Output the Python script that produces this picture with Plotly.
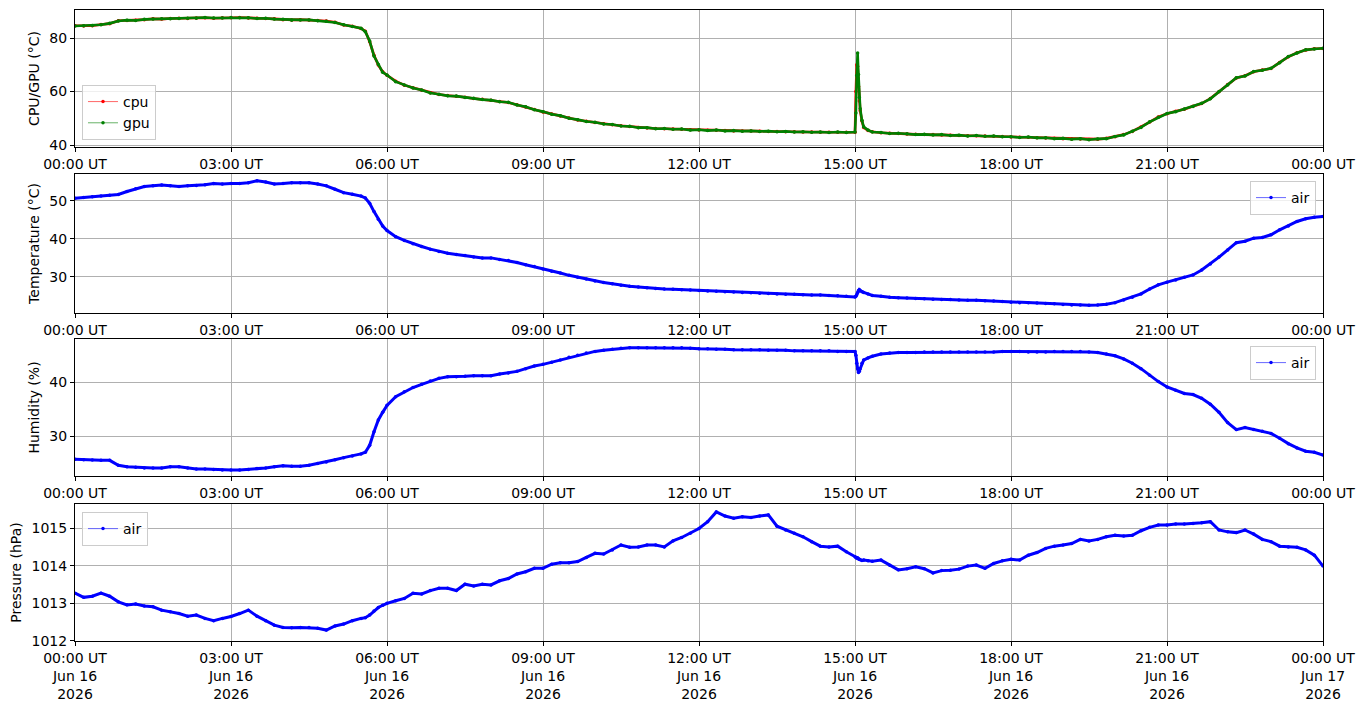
import pandas as pd
import plotly.graph_objects as go

# sample times: every 10 minutes, with a few extra samples around the drop and the 15:00 spike
base = pd.date_range("2026-06-16 00:00", "2026-06-17 00:00", freq="10min")
extra = pd.to_datetime(["2026-06-16 05:35", "2026-06-16 05:45", "2026-06-16 05:55",
                        "2026-06-16 15:01", "2026-06-16 15:02", "2026-06-16 15:03",
                        "2026-06-16 15:04", "2026-06-16 15:05", "2026-06-16 15:06",
                        "2026-06-16 15:08", "2026-06-16 15:15"])
times = base.append(extra).sort_values()

# CPU temperature (deg C), one row per hour
cpu = [
    84.6, 84.5, 84.6, 85.1, 85.4, 86.5,
    86.6, 86.7, 86.9, 87.2, 87.1, 87.3,
    87.4, 87.3, 87.5, 87.6, 87.4, 87.6,
    87.6, 87.7, 87.5, 87.4, 87.3, 87.2,
    86.9, 86.8, 86.9, 86.75, 86.6, 86.4,
    85.9, 84.9, 84.4, 83.6, 82.6, 78.6, 73.6, 69.9, 67.4,
    66.1, 63.9, 62.4, 61.4, 60.5, 59.6,
    58.9, 58.5, 58.25, 57.9, 57.4, 57.1,
    56.75, 56.3, 55.9, 55.1, 54.25, 53.3,
    52.4, 51.6, 50.9, 50.1, 49.4, 48.9,
    48.4, 48.0, 47.6, 47.2, 46.9, 46.6,
    46.4, 46.2, 46.1, 46.0, 45.9, 45.7,
    45.6, 45.5, 45.5, 45.4, 45.3, 45.3,
    45.25, 45.2, 45.1, 45.1, 45.0, 45.0,
    44.9, 44.9, 44.8, 44.8, 44.8, 44.8,
    44.8, 60.0, 70.0, 69.5, 62.0, 56.5, 52.8, 49.0, 46.6, 45.4, 45.0, 44.6, 44.4, 44.3,
    44.1, 44.0, 43.9, 43.9, 43.8, 43.7,
    43.6, 43.5, 43.5, 43.4, 43.3, 43.2,
    43.0, 42.9, 42.9, 42.75, 42.6, 42.5,
    42.4, 42.3, 42.3, 42.1, 42.2, 42.5,
    43.1, 43.9, 45.1, 46.75, 48.6, 50.5,
    51.75, 52.6, 53.4, 54.5, 55.5, 57.4,
    59.9, 62.6, 65.1, 65.9, 67.4, 68.1,
    68.6, 70.9, 73.0, 74.5, 75.5, 76.0,
    76.1,
]

# GPU temperature (deg C)
gpu = [
    84.5, 84.6, 84.7, 85.0, 85.5, 86.4,
    86.7, 86.6, 87.0, 87.1, 87.2, 87.2,
    87.3, 87.4, 87.4, 87.7, 87.5, 87.5,
    87.7, 87.6, 87.6, 87.3, 87.4, 87.1,
    87.0, 86.7, 86.8, 86.8, 86.5, 86.3,
    85.8, 85.0, 84.3, 83.7, 82.4, 78.9, 73.3, 70.1, 67.2,
    66.2, 63.7, 62.5, 61.3, 60.6, 59.5,
    59.0, 58.4, 58.3, 57.8, 57.5, 57.0,
    56.8, 56.2, 56.0, 55.0, 54.3, 53.2,
    52.5, 51.5, 51.0, 50.0, 49.5, 48.8,
    48.5, 47.9, 47.7, 47.1, 47.0, 46.5,
    46.5, 46.1, 46.2, 45.9, 46.0, 45.6,
    45.7, 45.4, 45.6, 45.3, 45.4, 45.2,
    45.3, 45.1, 45.2, 45.0, 45.1, 44.9,
    45.0, 44.8, 44.9, 44.7, 44.9, 44.7,
    44.9, 52.0, 66.0, 74.4, 66.4, 57.8, 53.6, 49.3, 46.8, 45.6, 44.9, 44.7, 44.3, 44.4,
    44.2, 43.9, 44.0, 43.8, 43.9, 43.6,
    43.7, 43.4, 43.6, 43.3, 43.4, 43.1,
    43.1, 42.8, 43.0, 42.7, 42.7, 42.4,
    42.5, 42.2, 42.4, 42.0, 42.3, 42.4,
    43.2, 43.8, 45.2, 46.6, 48.7, 50.4,
    51.8, 52.5, 53.5, 54.4, 55.6, 57.3,
    60.0, 62.5, 65.2, 65.8, 67.5, 68.0,
    68.7, 70.8, 73.1, 74.4, 75.6, 75.9,
    76.2,
]

# air temperature (deg C)
air_temp = [
    50.7, 50.9, 51.1, 51.3, 51.5, 51.7,
    52.5, 53.2, 53.8, 54.0, 54.2, 54.0,
    53.8, 54.0, 54.1, 54.3, 54.6, 54.5,
    54.6, 54.6, 54.8, 55.35, 55.0, 54.5,
    54.6, 54.8, 54.8, 54.8, 54.5, 54.0,
    53.1, 52.2, 51.8, 51.3, 50.8, 49.4, 47.2, 45.2, 43.4,
    42.2, 40.6, 39.6, 38.7, 38.0, 37.3,
    36.7, 36.2, 35.9, 35.6, 35.2, 35.0,
    35.0, 34.6, 34.3, 33.8, 33.2, 32.7,
    32.1, 31.5, 31.0, 30.4, 29.9, 29.4,
    28.9, 28.5, 28.2, 27.8, 27.5, 27.3,
    27.1, 26.9, 26.8, 26.7, 26.6, 26.5,
    26.4, 26.3, 26.2, 26.05, 26.0, 25.9,
    25.8, 25.7, 25.6, 25.5, 25.4, 25.4,
    25.3, 25.2, 25.2, 25.1, 25.0, 24.9,
    24.7, 24.9, 25.3, 25.9, 26.4, 26.6, 26.4, 26.1, 25.9, 25.5, 25.1, 24.9, 24.6, 24.5,
    24.4, 24.3, 24.2, 24.1, 24.0, 24.0,
    23.9, 23.8, 23.8, 23.7, 23.6, 23.5,
    23.3, 23.2, 23.2, 23.1, 23.0, 22.9,
    22.7, 22.6, 22.6, 22.5, 22.6, 22.8,
    23.2, 23.9, 24.6, 25.5, 26.8, 27.9,
    28.6, 29.2, 29.9, 30.5, 31.8, 33.4,
    35.2, 37.1, 39.0, 39.4, 40.2, 40.4,
    41.1, 42.4, 43.4, 44.6, 45.3, 45.7,
    45.9,
]

# relative humidity (%)
air_hum = [
    25.7, 25.6, 25.55, 25.5, 25.5, 24.6,
    24.3, 24.2, 24.1, 24.1, 24.1, 24.3,
    24.3, 24.1, 23.9, 23.9, 23.8, 23.7,
    23.7, 23.7, 23.8, 24.0, 24.1, 24.3,
    24.5, 24.4, 24.4, 24.6, 24.9, 25.2,
    25.6, 26.0, 26.3, 26.7, 27.0, 28.3, 30.8, 33.0, 34.4,
    35.7, 37.3, 38.2, 39.0, 39.6, 40.2,
    40.7, 41.0, 41.0, 41.1, 41.2, 41.2,
    41.2, 41.5, 41.7, 42.0, 42.5, 43.0,
    43.3, 43.7, 44.1, 44.6, 45.0, 45.4,
    45.7, 45.9, 46.1, 46.3, 46.4, 46.4,
    46.4, 46.4, 46.4, 46.4, 46.4, 46.3,
    46.2, 46.2, 46.1, 46.1, 46.0, 46.0,
    46.0, 46.0, 45.9, 45.9, 45.9, 45.8,
    45.8, 45.8, 45.8, 45.8, 45.7, 45.7,
    45.7, 45.0, 43.5, 42.5, 41.8, 42.0, 42.5, 43.5, 44.1, 44.5, 44.8, 45.2, 45.4, 45.5,
    45.5, 45.5, 45.6, 45.6, 45.6, 45.6,
    45.6, 45.6, 45.6, 45.6, 45.6, 45.7,
    45.7, 45.7, 45.6, 45.6, 45.6, 45.7,
    45.7, 45.7, 45.7, 45.6, 45.5, 45.2,
    44.9, 44.3, 43.5, 42.5, 41.3, 40.1,
    39.1, 38.5, 37.9, 37.7, 37.0, 35.9,
    34.4, 32.5, 31.2, 31.6, 31.2, 30.9,
    30.5, 29.6, 28.6, 27.8, 27.2, 27.0,
    26.5,
]

# air pressure (hPa)
air_pres = [
    1013.27, 1013.16, 1013.19, 1013.27, 1013.19, 1013.04,
    1012.96, 1012.98, 1012.93, 1012.91, 1012.82, 1012.78,
    1012.73, 1012.66, 1012.69, 1012.60, 1012.54, 1012.60,
    1012.65, 1012.73, 1012.82, 1012.66, 1012.54, 1012.42,
    1012.36, 1012.35, 1012.36, 1012.36, 1012.34, 1012.29,
    1012.40, 1012.45, 1012.54, 1012.60, 1012.62, 1012.69, 1012.80, 1012.89, 1012.95,
    1013.00, 1013.07, 1013.13, 1013.27, 1013.25, 1013.34,
    1013.40, 1013.40, 1013.34, 1013.51, 1013.46, 1013.51,
    1013.49, 1013.60, 1013.66, 1013.78, 1013.84, 1013.93,
    1013.93, 1014.04, 1014.08, 1014.08, 1014.11, 1014.22,
    1014.33, 1014.31, 1014.42, 1014.55, 1014.49, 1014.50,
    1014.55, 1014.55, 1014.50, 1014.66, 1014.75, 1014.86,
    1014.99, 1015.17, 1015.43, 1015.32, 1015.26, 1015.30,
    1015.28, 1015.32, 1015.35, 1015.05, 1014.95, 1014.86,
    1014.77, 1014.64, 1014.52, 1014.50, 1014.52, 1014.37,
    1014.24, 1014.22, 1014.20, 1014.21, 1014.18, 1014.17, 1014.16, 1014.14, 1014.15,
    1014.13, 1014.12, 1014.15, 1014.01, 1013.89,
    1013.92, 1013.97, 1013.92, 1013.81, 1013.87, 1013.88,
    1013.91, 1013.99, 1014.02, 1013.93, 1014.06, 1014.13,
    1014.17, 1014.15, 1014.28, 1014.35, 1014.46, 1014.52,
    1014.55, 1014.59, 1014.70, 1014.66, 1014.70, 1014.77,
    1014.81, 1014.79, 1014.81, 1014.93, 1015.02, 1015.08,
    1015.08, 1015.11, 1015.11, 1015.12, 1015.14, 1015.17,
    1014.95, 1014.90, 1014.88, 1014.95, 1014.84, 1014.70,
    1014.64, 1014.52, 1014.50, 1014.49, 1014.42, 1014.28,
    1013.99,
]

tick_times = pd.date_range("2026-06-16 00:00", "2026-06-17 00:00", freq="3h")
tick_text = [t.strftime("%H:%M UT") for t in tick_times]
tick_text_bottom = [t.strftime("%H:%M UT<br>%b %d<br>%Y") for t in tick_times]

font = dict(family="DejaVu Sans, sans-serif", size=14, color="black")
grid = "#b0b0b0"

fig = go.Figure()

def add(y, name, color, axis, legend, band=3.0):
    # thick band standing in for the dense 1-minute samples
    fig.add_trace(go.Scatter(
        x=times, y=y, mode="lines", showlegend=False, hoverinfo="skip",
        line=dict(color=color, width=band),
        xaxis="x" + axis, yaxis="y" + axis,
    ))
    fig.add_trace(go.Scatter(
        x=times, y=y, name=name, mode="lines+markers",
        line=dict(color=color, width=0.6),
        marker=dict(color=color, size=3.5),
        xaxis="x" + axis, yaxis="y" + axis, legend=legend,
    ))

add(cpu, "cpu", "red", "", "legend", 2.6)
add(gpu, "gpu", "green", "", "legend", 2.6)
add(air_temp, "air", "blue", "2", "legend2")
add(air_hum, "air", "blue", "3", "legend3")
add(air_pres, "air", "blue", "4", "legend4")

domains = [(0.783, 1.0), (0.520, 0.740), (0.2615, 0.4786), (0.0, 0.2171)]
yranges = [(39.3, 90.5), (20.5, 57.1), (22.6, 48.0), (1012.0, 1015.64)]
yticks = [[40, 60, 80], [30, 40, 50], [30, 40], [1012, 1013, 1014, 1015]]
ytitles = ["CPU/GPU (°C)", "Temperature (°C)", "Humidity (%)", "Pressure (hPa)"]

axis_common = dict(
    showline=True, linecolor="black", linewidth=1, mirror=True,
    showgrid=True, gridcolor=grid, gridwidth=0.8,
    ticks="outside", ticklen=4, tickcolor="black", zeroline=False,
    tickfont=font, automargin=False,
)

# page body adds an 8px offset, so the figure is 16px smaller than the window
layout = dict(
    width=1356, height=699,
    margin=dict(l=67, r=41, t=2, b=66),
    paper_bgcolor="white", plot_bgcolor="white",
    font=font,
)

for i in range(4):
    sfx = "" if i == 0 else str(i + 1)
    layout["xaxis" + sfx] = dict(
        axis_common, anchor="y" + sfx, domain=[0, 1],
        range=[tick_times[0], tick_times[-1]],
        tickvals=tick_times,
        ticktext=tick_text_bottom if i == 3 else tick_text,
    )
    layout["yaxis" + sfx] = dict(
        axis_common, anchor="x" + sfx, domain=list(domains[i]),
        range=list(yranges[i]), tickvals=yticks[i],
        title=dict(text=ytitles[i], font=font, standoff=6),
    )

legend_style = dict(
    bgcolor="rgba(255,255,255,0.8)", bordercolor="#cccccc", borderwidth=1,
    font=font, tracegroupgap=0, itemwidth=30,
)
layout["legend"] = dict(legend_style, x=0.0056, y=0.794, xanchor="left", yanchor="bottom")
layout["legend2"] = dict(legend_style, x=0.9944, y=0.729, xanchor="right", yanchor="top")
layout["legend3"] = dict(legend_style, x=0.9944, y=0.4675, xanchor="right", yanchor="top")
layout["legend4"] = dict(legend_style, x=0.0056, y=0.2044, xanchor="left", yanchor="top")

fig.update_layout(**layout)

fig.write_html("out.html")
